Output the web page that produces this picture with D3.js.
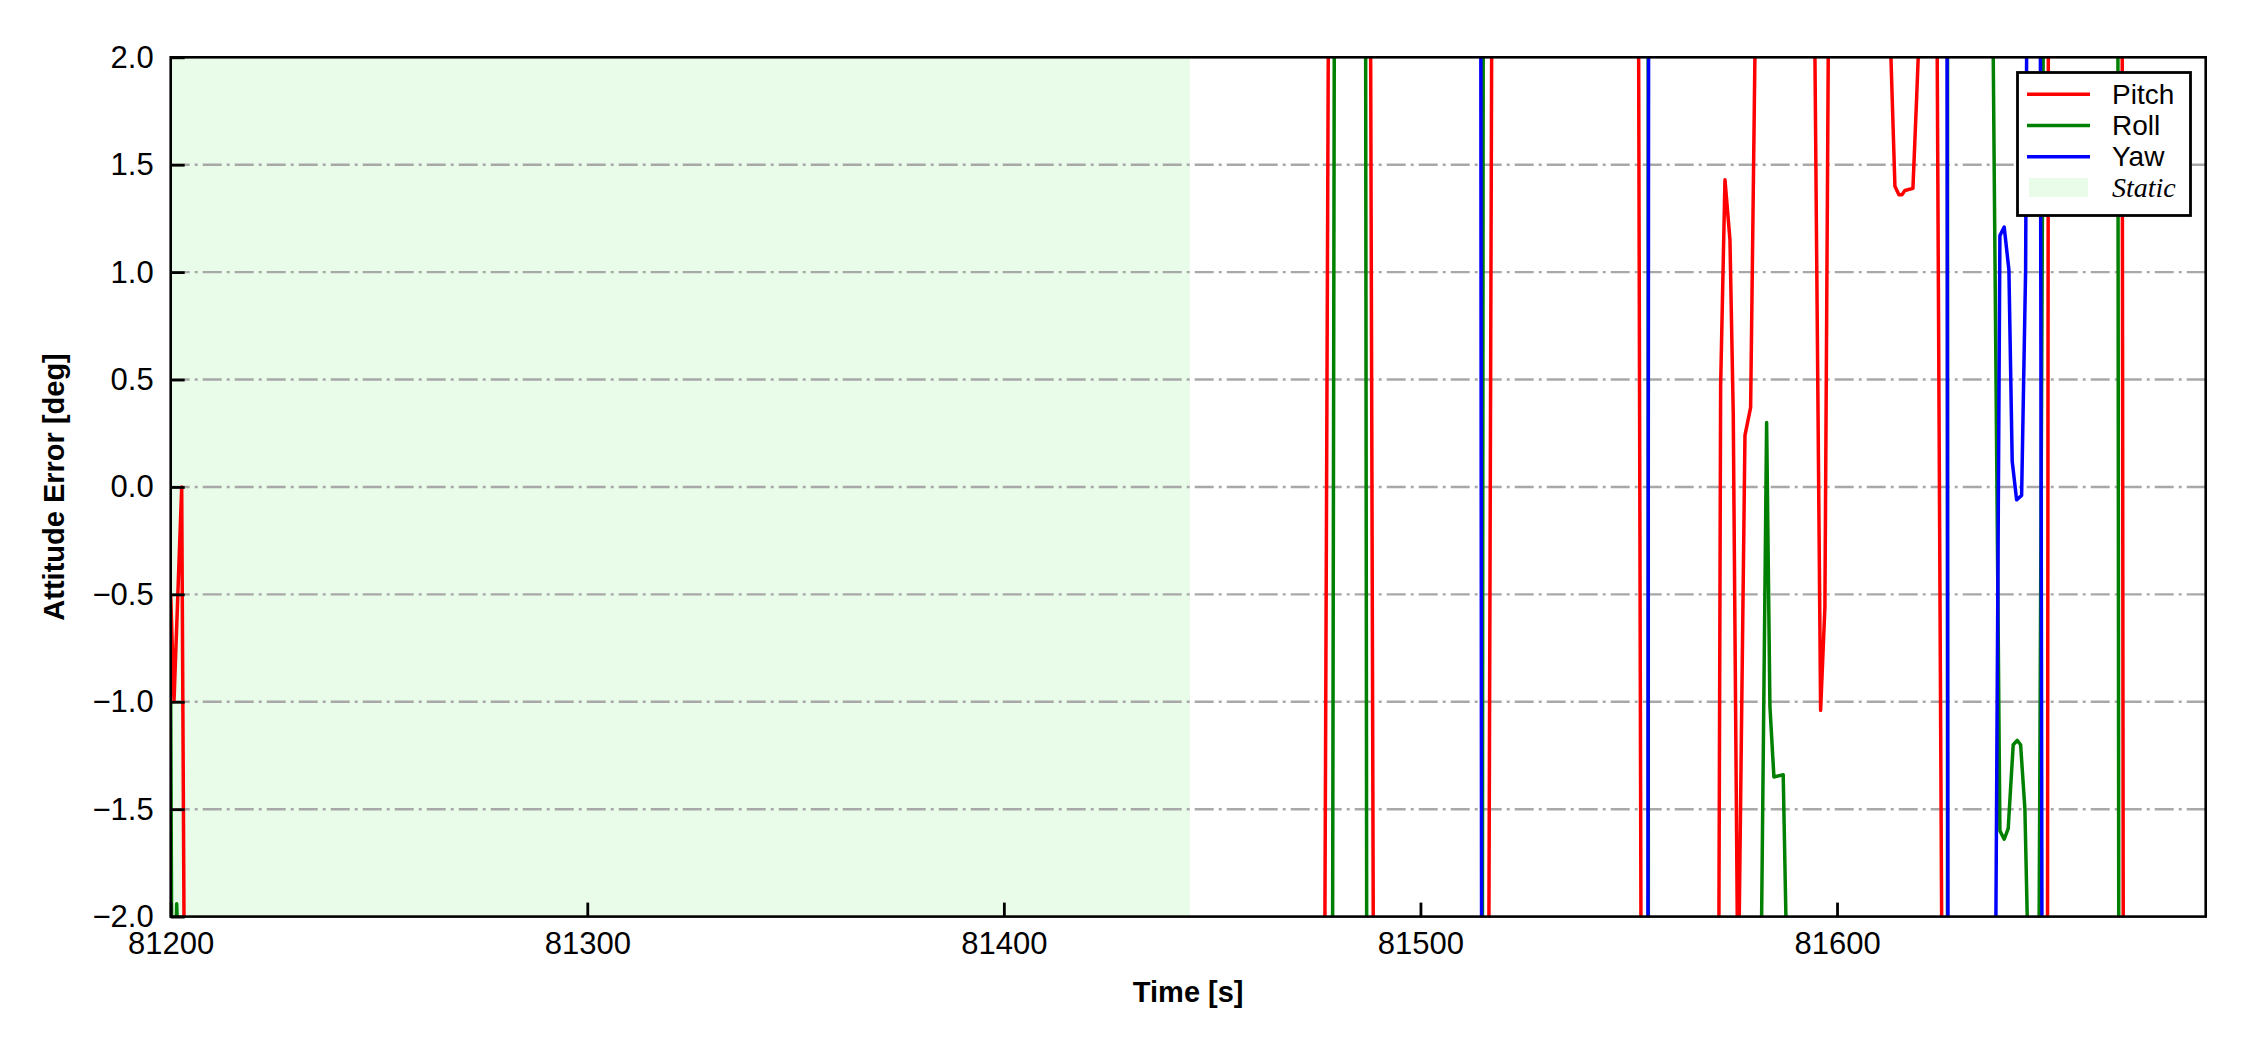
<!DOCTYPE html>
<html>
<head>
<meta charset="utf-8">
<script src="https://cdn.jsdelivr.net/npm/d3@7"></script>
<style>
  html, body { margin: 0; padding: 0; background: #ffffff; }
  svg { display: block; }
</style>
</head>
<body>
<div id="chart"></div>
<script>
// ---------------- data (time offset from 81200 s, attitude error in deg) ----------------
const T0 = 81200;
const xDomain = [81200, 81688.5];
const yDomain = [-2, 2];
const xTicks = [81200, 81300, 81400, 81500, 81600];
const yTicks = [-2.0, -1.5, -1.0, -0.5, 0.0, 0.5, 1.0, 1.5, 2.0];
const staticSpan = [81200, 81444.7];
const seriesNames = ["Pitch", "Roll", "Yaw"];
const seriesColors = ["#ff0000", "#008000", "#0000ff"];

const pitch = [
  [0.0, -0.5], [0.79, -1.0], [2.64, 0.0], [3.19, -2.0], [3.7, -3],
  [276.6, -3], [277.07, -2.0], [277.87, 2.0], [278.4, 3],
  [287.5, 3], [288.05, 2.0], [288.67, -2.0], [289.2, -3],
  [315.9, -3], [316.44, -2.0], [317.09, 2.0], [317.6, 3],
  [351.9, 3], [352.38, 2.0], [352.93, -2.0], [353.4, -3],
  [371.2, -3], [371.65, -2.0], [372.06, 0.47], [373.10, 1.43], [374.30, 1.15],
  [375.09, 0.34], [376.05, -2.0], [376.3, -2.6], [376.53, -2.0], [377.90, 0.24],
  [379.26, 0.37], [380.29, 2.0], [380.8, 3],
  [394.2, 3], [394.70, 2.0], [396.06, -1.04], [397.09, -0.56], [397.89, 2.0], [398.4, 3],
  [412.4, 3], [412.94, 2.0], [413.90, 1.40], [414.86, 1.36], [415.58, 1.36], [416.30, 1.38],
  [418.22, 1.39], [419.11, 1.81], [419.49, 2.0], [420.0, 3],
  [423.5, 3], [424.05, 2.0], [425.11, -2.0], [425.6, -3],
  [450.0, -3], [450.53, -2.0], [450.72, 2.0], [451.2, 3],
  [467.9, 3], [468.46, 2.0], [468.70, -2.0], [469.2, -3],
  [488.5, -3]
];

const roll = [
  [0.0, -1.0], [0.25, -2.2], [1.0, -2.3], [1.44, -1.94], [1.9, -2.3], [2.4, -3],
  [278.4, -3], [278.92, -2.0], [279.31, 2.0], [279.8, 3],
  [286.3, 3], [286.85, 2.0], [287.09, -2.0], [287.6, -3],
  [314.4, -3], [314.88, -2.0], [315.06, 2.0], [315.6, 3],
  [354.1, 3], [354.68, 2.0], [354.70, -2.0], [355.2, -3],
  [381.4, -3], [381.90, -2.0], [383.10, 0.30], [383.89, -1.02], [384.85, -1.35],
  [387.08, -1.34], [387.73, -2.0], [388.2, -3],
  [426.0, -3], [426.52, -2.0], [426.53, 2.0], [427.0, 3],
  [437.0, 3], [437.5, 2.0], [439.10, -1.60], [440.13, -1.64], [441.09, -1.59],
  [442.29, -1.20], [443.25, -1.18], [444.07, -1.20], [445.10, -1.50], [445.66, -2.0], [446.1, -3],
  [448.0, -3], [448.52, -2.0], [449.48, 2.0], [450.0, 3],
  [466.9, 3], [467.43, 2.0], [467.62, -2.0], [468.1, -3],
  [488.5, -3]
];

const yaw = [
  [0.0, 3],
  [314.0, 3], [314.50, 2.0], [314.67, -2.0], [315.2, -3],
  [354.1, -3], [354.62, -2.0], [354.76, 2.0], [355.3, 3],
  [425.9, 3], [426.42, 2.0], [426.62, -2.0], [427.1, -3],
  [437.6, -3], [438.14, -2.0], [439.10, 1.17], [440.13, 1.21], [441.26, 1.01],
  [442.05, 0.12], [443.11, -0.06], [444.31, -0.04], [445.27, 1.01], [445.51, 2.0], [446.0, 3],
  [448.3, 3], [448.82, 2.0], [449.18, -2.0], [449.7, -3],
  [488.5, -3]
];

const seriesData = [pitch, roll, yaw];

// ---------------- layout ----------------
const W = 2250, H = 1050;
const plot = { left: 170.7, right: 2205.7, top: 57.3, bottom: 916.6 };
const FONT = "'Liberation Sans', Arial, Helvetica, sans-serif";

const svg = d3.select("#chart").append("svg")
  .attr("width", W).attr("height", H)
  .attr("viewBox", `0 0 ${W} ${H}`);

svg.append("rect").attr("width", W).attr("height", H).attr("fill", "#ffffff");

const x = d3.scaleLinear().domain(xDomain).range([plot.left, plot.right]);
const y = d3.scaleLinear().domain(yDomain).range([plot.bottom, plot.top]);

svg.append("defs").append("clipPath").attr("id", "clip")
  .append("rect")
  .attr("x", plot.left).attr("y", plot.top)
  .attr("width", plot.right - plot.left).attr("height", plot.bottom - plot.top);

// static shading
svg.append("rect")
  .attr("x", x(staticSpan[0])).attr("y", plot.top)
  .attr("width", x(staticSpan[1]) - x(staticSpan[0]))
  .attr("height", plot.bottom - plot.top)
  .attr("fill", "rgb(233,251,233)");

// grid (dash-dot)
svg.append("g").selectAll("line")
  .data(yTicks.filter(v => v > yDomain[0] && v < yDomain[1]))
  .join("line")
  .attr("x1", plot.left).attr("x2", plot.right)
  .attr("y1", d => y(d)).attr("y2", d => y(d))
  .attr("stroke", "#a8a8a8").attr("stroke-width", 2.4)
  .attr("stroke-dasharray", "19,5,3,5");

// lines
const line = d3.line().x(d => x(T0 + d[0])).y(d => y(d[1]));
const gLines = svg.append("g").attr("clip-path", "url(#clip)");
seriesData.forEach((data, i) => {
  gLines.append("path")
    .datum(data)
    .attr("d", line)
    .attr("fill", "none")
    .attr("stroke", seriesColors[i])
    .attr("stroke-width", 3.5)
    .attr("stroke-linejoin", "round");
});

// axes
const fmtY = d3.format(".1f");
const yAxis = d3.axisLeft(y).tickValues(yTicks).tickFormat(fmtY)
  .tickSizeInner(-14).tickSizeOuter(0).tickPadding(17);
const xAxis = d3.axisBottom(x).tickValues(xTicks).tickFormat(d3.format("d"))
  .tickSizeInner(-14).tickSizeOuter(0).tickPadding(15);

const gy = svg.append("g").attr("transform", `translate(${plot.left},0)`).call(yAxis);
const gx = svg.append("g").attr("transform", `translate(0,${plot.bottom})`).call(xAxis);
[gx, gy].forEach(g => {
  g.select(".domain").remove();
  g.selectAll(".tick line").attr("stroke", "#000").attr("stroke-width", 2.8);
  g.selectAll(".tick text").attr("fill", "#000")
    .style("font-family", FONT).style("font-size", "31px");
});

// spines
svg.append("rect")
  .attr("x", plot.left).attr("y", plot.top)
  .attr("width", plot.right - plot.left).attr("height", plot.bottom - plot.top)
  .attr("fill", "none").attr("stroke", "#000").attr("stroke-width", 2.6);

// axis labels
svg.append("text")
  .attr("x", (plot.left + plot.right) / 2).attr("y", 992)
  .attr("text-anchor", "middle").attr("dominant-baseline", "central")
  .style("font-family", FONT).style("font-size", "29px").style("font-weight", "bold")
  .text("Time [s]");
svg.append("text")
  .attr("transform", `translate(54,${(plot.top + plot.bottom) / 2}) rotate(-90)`)
  .attr("text-anchor", "middle").attr("dominant-baseline", "central")
  .style("font-family", FONT).style("font-size", "29px").style("font-weight", "bold")
  .text("Attitude Error [deg]");

// legend
const lg = svg.append("g");
lg.append("rect")
  .attr("x", 2017.5).attr("y", 72.5).attr("width", 173).attr("height", 143)
  .attr("fill", "#fff").attr("stroke", "#000").attr("stroke-width", 2.8);
const rowY = [94.3, 125.5, 156.7, 187.5];
seriesNames.forEach((name, i) => {
  lg.append("line")
    .attr("x1", 2027).attr("x2", 2090)
    .attr("y1", rowY[i]).attr("y2", rowY[i])
    .attr("stroke", seriesColors[i]).attr("stroke-width", 3.5);
  lg.append("text")
    .attr("x", 2112).attr("y", rowY[i])
    .attr("dominant-baseline", "central")
    .style("font-family", FONT).style("font-size", "28px")
    .text(name);
});
lg.append("rect")
  .attr("x", 2029).attr("y", 178).attr("width", 59).attr("height", 19)
  .attr("fill", "rgb(233,251,233)");
lg.append("text")
  .attr("x", 2112).attr("y", rowY[3])
  .attr("dominant-baseline", "central")
  .style("font-family", "'Liberation Serif', 'Times New Roman', serif")
  .style("font-style", "italic").style("font-size", "28px")
  .text("Static");
</script>
</body>
</html>
